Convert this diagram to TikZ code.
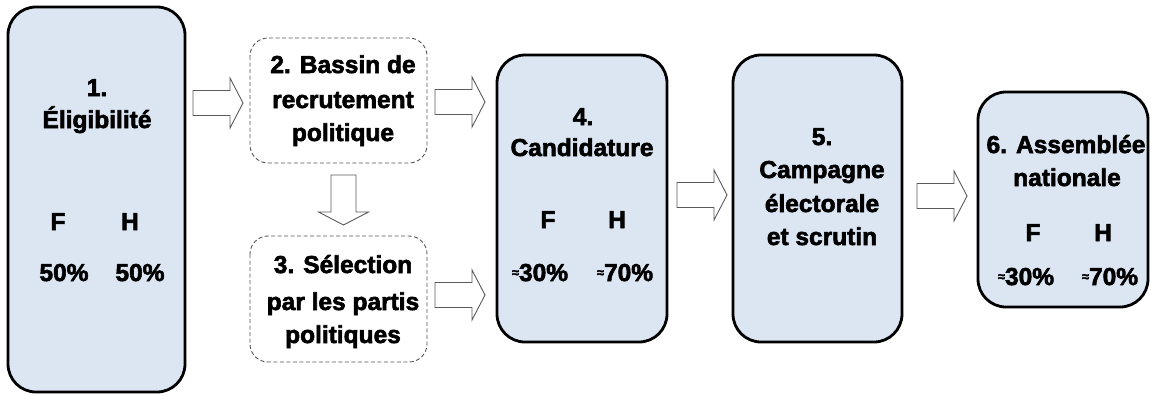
\documentclass[tikz,border=0pt]{standalone}
\usepackage{fontspec}
\setmainfont{Liberation Sans}[BoldFeatures={FakeBold=2.4}]
\definecolor{boxfill}{HTML}{DCE6F2}
\definecolor{arrowline}{HTML}{5A5A5A}
\definecolor{dashline}{HTML}{555555}
\begin{document}
\begin{tikzpicture}[x=1pt,y=-1pt,
  solidbox/.style={draw=black,line width=2.8pt,fill=boxfill,rounded corners=28pt},
  dashbox/.style={draw=dashline,line width=0.9pt,dash pattern=on 4pt off 2.5pt,rounded corners=18pt},
  txt/.style={font=\bfseries\fontsize{24.5}{30}\selectfont,inner sep=0pt,anchor=base},
  barrowline/.style={draw=arrowline,line width=0.9pt,fill=white,line join=miter},
  barrow/.pic={\path[barrowline] (0,-12.5) -- (37,-12.5) -- (37,-25) -- (50,0) -- (37,25) -- (37,12.5) -- (0,12.5) -- cycle;}
]
\useasboundingbox (0,0) rectangle (1151,394);
% boxes
\path[solidbox] (8,7) rectangle (185,392);
\path[dashbox] (250,38) rectangle (427,163);
\path[dashbox] (250,236) rectangle (427,362);
\path[solidbox] (497,55) rectangle (667,342);
\path[solidbox] (733,55) rectangle (902,342);
\path[solidbox] (978,92) rectangle (1148,307);
% block arrows
\pic at (193,103) {barrow};
\pic at (435,102) {barrow};
\pic at (435,295) {barrow};
\pic at (677,195) {barrow};
\pic at (917,196) {barrow};
\pic[rotate=-90] at (343.5,175) {barrow};
% box 1
\node[txt] (t1a) at (97,96) {1.};
\node[txt] (t1b) at (97,128) {Éligibilité};
\node[txt] (t1f) at (58,230) {F};
\node[txt] (t1h) at (130,230) {H};
\node[txt] (t1p) at (64,281) {50\%};
\node[txt] (t1q) at (140,281) {50\%};
% box 2
\node[txt] (t2a) at (343,73) {2. Bassin de};
\node[txt] (t2b) at (343,108) {recrutement};
\node[txt] (t2c) at (343,141) {politique};
% box 3
\node[txt] (t3a) at (343,273) {3. Sélection};
\node[txt] (t3b) at (343,310) {par les partis};
\node[txt] (t3c) at (343,343) {politiques};
% box 4
\node[txt] (t4a) at (583,125) {4.};
\node[txt] (t4b) at (582,156) {Candidature};
\node[txt] (t4f) at (548,228) {F};
\node[txt] (t4h) at (617,228) {H};
\node[txt] (t4p) at (540,281) {\raisebox{4pt}{\fontsize{13}{13}\selectfont ≈}30\%};
\node[txt] (t4q) at (625,281) {\raisebox{4pt}{\fontsize{13}{13}\selectfont ≈}70\%};
% box 5
\node[txt] (t5a) at (822,145) {5.};
\node[txt] (t5b) at (822,178) {Campagne};
\node[txt] (t5c) at (822,212) {électorale};
\node[txt] (t5d) at (822,245) {et scrutin};
% box 6
\node[txt] (t6a) at (1066,153) {6. Assemblée};
\node[txt] (t6b) at (1067,186) {nationale};
\node[txt] (t6f) at (1033,241) {F};
\node[txt] (t6h) at (1103,241) {H};
\node[txt] (t6p) at (1026,285) {\raisebox{4pt}{\fontsize{13}{13}\selectfont ≈}30\%};
\node[txt] (t6q) at (1110,285) {\raisebox{4pt}{\fontsize{13}{13}\selectfont ≈}70\%};
\end{tikzpicture}
\end{document}
